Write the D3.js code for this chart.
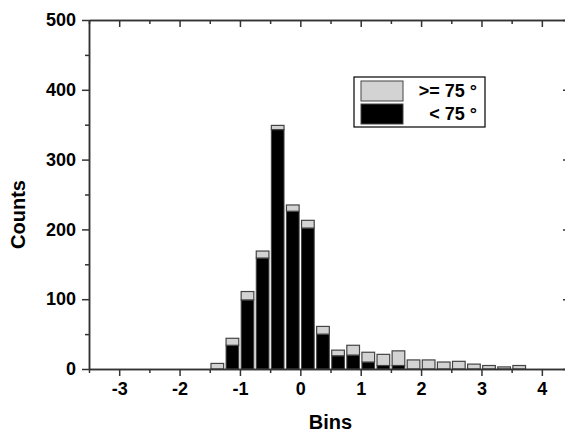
<!DOCTYPE html>
<html>
<head>
<meta charset="utf-8">
<script src="https://cdn.jsdelivr.net/npm/d3@7"></script>
<style>
  body { margin: 0; background: #fff; }
  text { font-family: "Liberation Sans", Arial, sans-serif; font-weight: bold; fill: #000; }
</style>
</head>
<body>
<div id="chart"></div>
<script>
// histogram bins (centres) and stacked counts
const binCenters = [-1.375, -1.125, -0.875, -0.625, -0.375, -0.125, 0.125, 0.375, 0.625, 0.875,
    1.125, 1.375, 1.625, 1.875, 2.125, 2.375, 2.625, 2.875, 3.125, 3.375, 3.625];
const countsBelow75 = [0, 34, 99, 159, 343, 226, 202, 50, 19, 20, 10, 5, 5, 0, 0, 0, 0, 0, 0, 0, 0];
const countsAbove75 = [8, 10, 12, 10, 6, 9, 11, 11, 8, 14, 14, 16, 21, 13, 13, 10, 11, 7, 5, 3, 5];
const binWidth = 0.25;

const xTicks = [-3, -2, -1, 0, 1, 2, 3, 4];
const xMinorTicks = [-3.5, -2.5, -1.5, -0.5, 0.5, 1.5, 2.5, 3.5];
const yTicks = [0, 100, 200, 300, 400, 500];
const yMinorTicks = [50, 150, 250, 350, 450];

const legendItems = [">= 75 °", "< 75 °"];

const svgWidth = 565;
const svgHeight = 434;
const margin = { top: 20, right: -1, bottom: 65, left: 89 };
const width = svgWidth - margin.left - margin.right;
const height = svgHeight - margin.top - margin.bottom;
const axisColor = "#333";

const svg = d3.select("#chart")
    .append("svg")
    .attr("width", svgWidth)
    .attr("height", svgHeight)
    .append("g")
    .attr("transform", `translate(${margin.left},${margin.top})`);

const x = d3.scaleLinear().domain([-3.5, 4.4]).range([0, width]);
const y = d3.scaleLinear().domain([0, 500]).range([height, 0]);

// bars: black part first, grey stacked on top
const barW = (x(binWidth) - x(0)) * 0.84;
const bins = binCenters.map((c, i) => ({ c: c, lo: countsBelow75[i], hi: countsAbove75[i] }));

const bars = svg.selectAll(".bin")
    .data(bins)
    .enter()
    .append("g")
    .attr("class", "bin");

bars.filter(d => d.lo > 0)
    .append("rect")
    .attr("x", d => x(d.c) - barW / 2)
    .attr("y", d => y(d.lo))
    .attr("width", barW)
    .attr("height", d => y(0) - y(d.lo))
    .attr("fill", "#000")
    .attr("stroke", "#444")
    .attr("stroke-width", 1);

bars.append("rect")
    .attr("x", d => x(d.c) - barW / 2)
    .attr("y", d => y(d.lo + d.hi))
    .attr("width", barW)
    .attr("height", d => y(d.lo) - y(d.lo + d.hi))
    .attr("fill", "#d3d3d3")
    .attr("stroke", "#444")
    .attr("stroke-width", 1.2);

// axes
function styleAxis(g) {
    g.select(".domain").attr("stroke", axisColor).attr("stroke-width", 1.5);
    g.selectAll(".tick line").attr("stroke", axisColor).attr("stroke-width", 1.5);
}

// plain hyphen for negatives, like the original
const plainNum = d => String(d);

const xAxis = svg.append("g")
    .attr("transform", `translate(0,${height})`)
    .call(d3.axisBottom(x).tickValues(xTicks).tickSize(7).tickPadding(6).tickSizeOuter(0).tickFormat(plainNum))
    .call(styleAxis);
xAxis.selectAll("text").attr("font-size", "18px").attr("font-family", null);

svg.append("g")
    .attr("transform", `translate(0,${height})`)
    .call(d3.axisBottom(x).tickValues(xMinorTicks).tickSize(4).tickFormat("").tickSizeOuter(0))
    .call(styleAxis);

const yAxis = svg.append("g")
    .call(d3.axisLeft(y).tickValues(yTicks).tickSize(7).tickPadding(6).tickSizeOuter(0).tickFormat(plainNum))
    .call(styleAxis);
yAxis.selectAll("text").attr("font-size", "18px").attr("font-family", null);

svg.append("g")
    .call(d3.axisLeft(y).tickValues(yMinorTicks).tickSize(4).tickFormat("").tickSizeOuter(0))
    .call(styleAxis);

// top axis, ticks pointing inward
svg.append("g")
    .call(d3.axisTop(x).tickValues(xTicks).tickSize(-7).tickFormat("").tickSizeOuter(0))
    .call(styleAxis);
svg.append("g")
    .call(d3.axisTop(x).tickValues(xMinorTicks).tickSize(-4).tickFormat("").tickSizeOuter(0))
    .call(styleAxis);

// right axis sits just outside the picture, only its inward ticks peek in
svg.append("g")
    .attr("transform", `translate(${width},0)`)
    .call(d3.axisRight(y).tickValues(yTicks).tickSize(-3).tickFormat("").tickSizeOuter(0))
    .call(styleAxis);

// axis titles
svg.append("text")
    .text("Bins")
    .attr("x", x(0.5))
    .attr("y", height + 60)
    .attr("text-anchor", "middle")
    .attr("font-size", "20px");

svg.append("text")
    .text("Counts")
    .attr("transform", `translate(${-margin.left + 25},${y(250) + 20}) rotate(-90)`)
    .attr("text-anchor", "middle")
    .attr("font-size", "20px");

// legend
const legend = svg.append("g")
    .attr("transform", `translate(${354 - margin.left},${77 - margin.top})`);

legend.append("rect")
    .attr("width", 131)
    .attr("height", 50)
    .attr("fill", "#fff")
    .attr("stroke", "#000")
    .attr("stroke-width", 1.2);

const legendFills = ["#d3d3d3", "#000"];
legendItems.forEach(function (label, i) {
    legend.append("rect")
        .attr("x", 7)
        .attr("y", 4 + i * 23)
        .attr("width", 42)
        .attr("height", 20)
        .attr("fill", legendFills[i])
        .attr("stroke", "#444")
        .attr("stroke-width", 1);
    legend.append("text")
        .text(label)
        .attr("x", 123)
        .attr("y", 20 + i * 23)
        .attr("text-anchor", "end")
        .attr("font-size", "18px");
});
</script>
</body>
</html>
